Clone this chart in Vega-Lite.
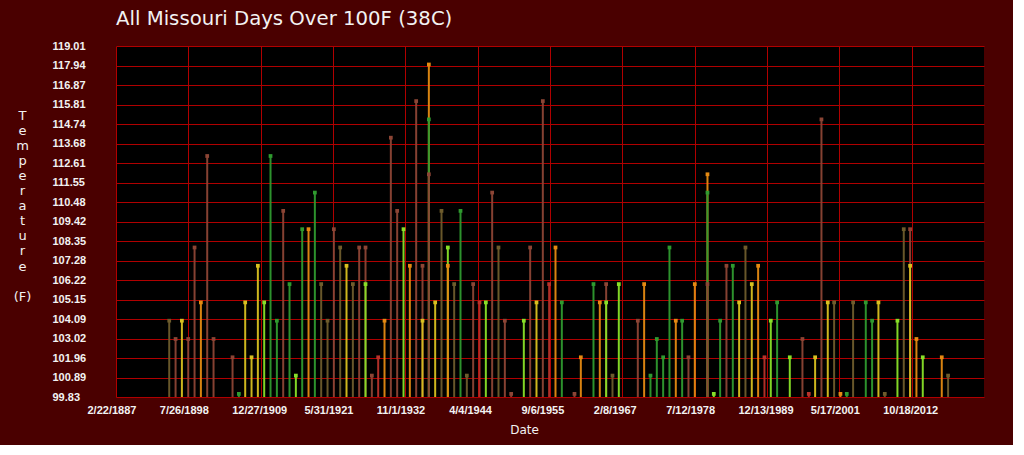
{
  "$schema": "https://vega.github.io/schema/vega-lite/v6.json",
  "width": 868,
  "height": 351,
  "autosize": {"type": "none"},
  "padding": {"left": 116, "top": 46, "right": 29, "bottom": 48},
  "background": "#4a0000",
  "title": {
    "text": "All Missouri Days Over 100F (38C)",
    "anchor": "start",
    "frame": "group",
    "color": "#f2f2f2",
    "font": "DejaVu Sans",
    "fontSize": 19.7,
    "fontWeight": "normal",
    "baseline": "alphabetic",
    "offset": 18,
    "dy": 23
  },
  "config": {
    "view": {"fill": "#000000", "stroke": null},
    "axis": {
      "domain": false,
      "ticks": false,
      "grid": true,
      "gridColor": "#b00000",
      "gridWidth": 1,
      "gridOpacity": 1,
      "labelOverlap": false,
      "labelBound": false,
      "labelFlush": false,
      "labelColor": "#f2f2f2",
      "labelFont": "Liberation Sans",
      "labelFontWeight": "bold",
      "labelFontSize": 11,
      "titleColor": "#f2f2f2",
      "titleFont": "DejaVu Sans",
      "titleFontWeight": "normal",
      "titleFontSize": 12
    }
  },
  "data": {
    "values": [
      {"date": "1895-07-20", "t": 104, "c": "ol"},
      {"date": "1896-07-20", "t": 103, "c": "br"},
      {"date": "1897-07-20", "t": 104, "c": "ye"},
      {"date": "1898-07-20", "t": 103, "c": "br"},
      {"date": "1899-07-20", "t": 108, "c": "br"},
      {"date": "1900-07-20", "t": 105, "c": "or"},
      {"date": "1901-07-20", "t": 113, "c": "br"},
      {"date": "1902-07-20", "t": 103, "c": "br"},
      {"date": "1905-07-20", "t": 102, "c": "br"},
      {"date": "1906-07-20", "t": 100, "c": "gn"},
      {"date": "1907-07-20", "t": 105, "c": "ye"},
      {"date": "1908-07-20", "t": 102, "c": "ye"},
      {"date": "1909-07-20", "t": 107, "c": "ye"},
      {"date": "1910-07-20", "t": 105, "c": "lg"},
      {"date": "1911-07-20", "t": 113, "c": "gn"},
      {"date": "1912-07-20", "t": 104, "c": "gn"},
      {"date": "1913-07-20", "t": 110, "c": "br"},
      {"date": "1914-07-20", "t": 106, "c": "gn"},
      {"date": "1915-07-20", "t": 101, "c": "lg"},
      {"date": "1916-07-20", "t": 109, "c": "gn"},
      {"date": "1917-07-20", "t": 109, "c": "or"},
      {"date": "1918-07-20", "t": 111, "c": "gn"},
      {"date": "1919-07-20", "t": 106, "c": "ol"},
      {"date": "1920-07-20", "t": 104, "c": "ol"},
      {"date": "1921-07-20", "t": 109, "c": "br"},
      {"date": "1922-07-20", "t": 108, "c": "ol"},
      {"date": "1923-07-20", "t": 107, "c": "ye"},
      {"date": "1924-07-20", "t": 106, "c": "ol"},
      {"date": "1925-07-20", "t": 108, "c": "br"},
      {"date": "1926-07-20", "t": 108, "c": "br"},
      {"date": "1926-07-20", "t": 106, "c": "lg"},
      {"date": "1927-07-20", "t": 101, "c": "br"},
      {"date": "1928-07-20", "t": 102, "c": "rd"},
      {"date": "1929-07-20", "t": 104, "c": "or"},
      {"date": "1930-07-20", "t": 114, "c": "br"},
      {"date": "1931-07-20", "t": 110, "c": "br"},
      {"date": "1932-07-20", "t": 109, "c": "lg"},
      {"date": "1933-07-20", "t": 107, "c": "or"},
      {"date": "1934-07-20", "t": 116, "c": "br"},
      {"date": "1935-07-20", "t": 107, "c": "br"},
      {"date": "1935-07-20", "t": 104, "c": "ye"},
      {"date": "1936-07-20", "t": 118, "c": "or"},
      {"date": "1936-07-20", "t": 115, "c": "gn"},
      {"date": "1936-07-20", "t": 112, "c": "br"},
      {"date": "1937-07-20", "t": 105, "c": "ye"},
      {"date": "1938-07-20", "t": 110, "c": "ol"},
      {"date": "1939-07-20", "t": 108, "c": "lg"},
      {"date": "1939-07-20", "t": 107, "c": "or"},
      {"date": "1940-07-20", "t": 106, "c": "ol"},
      {"date": "1941-07-20", "t": 110, "c": "gn"},
      {"date": "1942-07-20", "t": 101, "c": "ol"},
      {"date": "1943-07-20", "t": 106, "c": "br"},
      {"date": "1944-07-20", "t": 105, "c": "rd"},
      {"date": "1945-07-20", "t": 105, "c": "lg"},
      {"date": "1946-07-20", "t": 111, "c": "br"},
      {"date": "1947-07-20", "t": 108, "c": "ol"},
      {"date": "1948-07-20", "t": 104, "c": "br"},
      {"date": "1949-07-20", "t": 100, "c": "br"},
      {"date": "1951-07-20", "t": 104, "c": "lg"},
      {"date": "1952-07-20", "t": 108, "c": "br"},
      {"date": "1953-07-20", "t": 105, "c": "ye"},
      {"date": "1954-07-20", "t": 116, "c": "br"},
      {"date": "1955-07-20", "t": 106, "c": "rd"},
      {"date": "1956-07-20", "t": 108, "c": "or"},
      {"date": "1957-07-20", "t": 105, "c": "gn"},
      {"date": "1959-07-20", "t": 100, "c": "br"},
      {"date": "1960-07-20", "t": 102, "c": "or"},
      {"date": "1962-07-20", "t": 106, "c": "gn"},
      {"date": "1963-07-20", "t": 105, "c": "or"},
      {"date": "1964-07-20", "t": 106, "c": "br"},
      {"date": "1964-07-20", "t": 105, "c": "lg"},
      {"date": "1965-07-20", "t": 101, "c": "ol"},
      {"date": "1966-07-20", "t": 106, "c": "lg"},
      {"date": "1969-07-20", "t": 104, "c": "br"},
      {"date": "1970-07-20", "t": 106, "c": "or"},
      {"date": "1971-07-20", "t": 101, "c": "gn"},
      {"date": "1972-07-20", "t": 103, "c": "gn"},
      {"date": "1973-07-20", "t": 102, "c": "gn"},
      {"date": "1974-07-20", "t": 108, "c": "gn"},
      {"date": "1975-07-20", "t": 104, "c": "or"},
      {"date": "1976-07-20", "t": 104, "c": "gn"},
      {"date": "1977-07-20", "t": 102, "c": "br"},
      {"date": "1978-07-20", "t": 106, "c": "or"},
      {"date": "1980-07-20", "t": 112, "c": "or"},
      {"date": "1980-07-20", "t": 111, "c": "gn"},
      {"date": "1980-07-20", "t": 106, "c": "br"},
      {"date": "1981-07-20", "t": 100, "c": "lg"},
      {"date": "1982-07-20", "t": 104, "c": "gn"},
      {"date": "1983-07-20", "t": 107, "c": "br"},
      {"date": "1984-07-20", "t": 107, "c": "gn"},
      {"date": "1985-07-20", "t": 105, "c": "ye"},
      {"date": "1986-07-20", "t": 108, "c": "ol"},
      {"date": "1987-07-20", "t": 106, "c": "ye"},
      {"date": "1988-07-20", "t": 107, "c": "or"},
      {"date": "1989-07-20", "t": 102, "c": "rd"},
      {"date": "1990-07-20", "t": 104, "c": "lg"},
      {"date": "1991-07-20", "t": 105, "c": "gn"},
      {"date": "1993-07-20", "t": 102, "c": "lg"},
      {"date": "1995-07-20", "t": 103, "c": "br"},
      {"date": "1996-07-20", "t": 100, "c": "rd"},
      {"date": "1997-07-20", "t": 102, "c": "ye"},
      {"date": "1998-07-20", "t": 115, "c": "br"},
      {"date": "1999-07-20", "t": 105, "c": "ye"},
      {"date": "2000-07-20", "t": 105, "c": "ol"},
      {"date": "2001-07-20", "t": 100, "c": "or"},
      {"date": "2002-07-20", "t": 100, "c": "gn"},
      {"date": "2003-07-20", "t": 105, "c": "ol"},
      {"date": "2005-07-20", "t": 105, "c": "gn"},
      {"date": "2006-07-20", "t": 104, "c": "gn"},
      {"date": "2007-07-20", "t": 105, "c": "ye"},
      {"date": "2008-07-20", "t": 100, "c": "ol"},
      {"date": "2010-07-20", "t": 104, "c": "lg"},
      {"date": "2011-07-20", "t": 109, "c": "ol"},
      {"date": "2012-07-20", "t": 109, "c": "br"},
      {"date": "2012-07-20", "t": 107, "c": "ye"},
      {"date": "2013-07-20", "t": 103, "c": "or"},
      {"date": "2014-07-20", "t": 102, "c": "lg"},
      {"date": "2017-07-20", "t": 102, "c": "or"},
      {"date": "2018-07-20", "t": 101, "c": "ol"}
    ]
  },
  "encoding": {
    "x": {
      "field": "date",
      "type": "temporal",
      "scale": {
        "type": "utc",
        "domain": [
          {"year": 1887, "month": 2, "date": 22, "utc": true},
          {"year": 2024, "month": 3, "date": 21, "utc": true}
        ]
      },
      "axis": {
        "title": "Date",
        "titleX": 408,
        "titleY": 32,
        "titleAlign": "center",
        "titleBaseline": "middle",
        "labelAlign": "left",
        "labelBaseline": "middle",
        "labelOffset": -29,
        "labelPadding": 13,
        "values": [
          {"year": 1887, "month": 2, "date": 22, "utc": true},
          {"year": 1898, "month": 7, "date": 26, "utc": true},
          {"year": 1909, "month": 12, "date": 27, "utc": true},
          {"year": 1921, "month": 5, "date": 31, "utc": true},
          {"year": 1932, "month": 11, "date": 1, "utc": true},
          {"year": 1944, "month": 4, "date": 4, "utc": true},
          {"year": 1955, "month": 9, "date": 6, "utc": true},
          {"year": 1967, "month": 2, "date": 8, "utc": true},
          {"year": 1978, "month": 7, "date": 12, "utc": true},
          {"year": 1989, "month": 12, "date": 13, "utc": true},
          {"year": 2001, "month": 5, "date": 17, "utc": true},
          {"year": 2012, "month": 10, "date": 18, "utc": true}
        ],
        "labelExpr": "utcFormat(datum.value, '%-m/%-d/%Y')"
      }
    },
    "y": {
      "field": "t",
      "type": "quantitative",
      "scale": {"domain": [99.83, 119.01], "nice": false, "zero": false},
      "axis": {
        "title": ["T", "e", "m", "p", "e", "r", "a", "t", "u", "r", "e", "\u2800", "(F)"],
        "titleAngle": 0,
        "titleX": -94,
        "titleY": 63,
        "titleAlign": "center",
        "titleBaseline": "top",
        "titleFontSize": 13,
        "titleLineHeight": 15.1,
        "labelAlign": "left",
        "labelBaseline": "middle",
        "labelPadding": 64,
        "format": ".2f",
        "values": [99.83, 100.89, 101.96, 103.02, 104.09, 105.15, 106.22, 107.28, 108.35, 109.42, 110.48, 111.55, 112.61, 113.68, 114.74, 115.81, 116.87, 117.94, 119.01]
      }
    },
    "color": {
      "field": "c",
      "type": "nominal",
      "legend": null,
      "scale": {
        "domain": ["br", "rd", "ol", "gn", "lg", "ye", "or"],
        "range": ["#8c4535", "#b8322a", "#6e5c2c", "#2f9a2f", "#88e028", "#d8c020", "#e58a12"]
      }
    }
  },
  "layer": [
    {
      "mark": {"type": "rule", "strokeWidth": 2, "opacity": 0.95},
      "encoding": {
        "y2": {"datum": 99.83}
      }
    },
    {
      "mark": {"type": "point", "shape": "square", "filled": true, "size": 14, "opacity": 1}
    }
  ]
}
